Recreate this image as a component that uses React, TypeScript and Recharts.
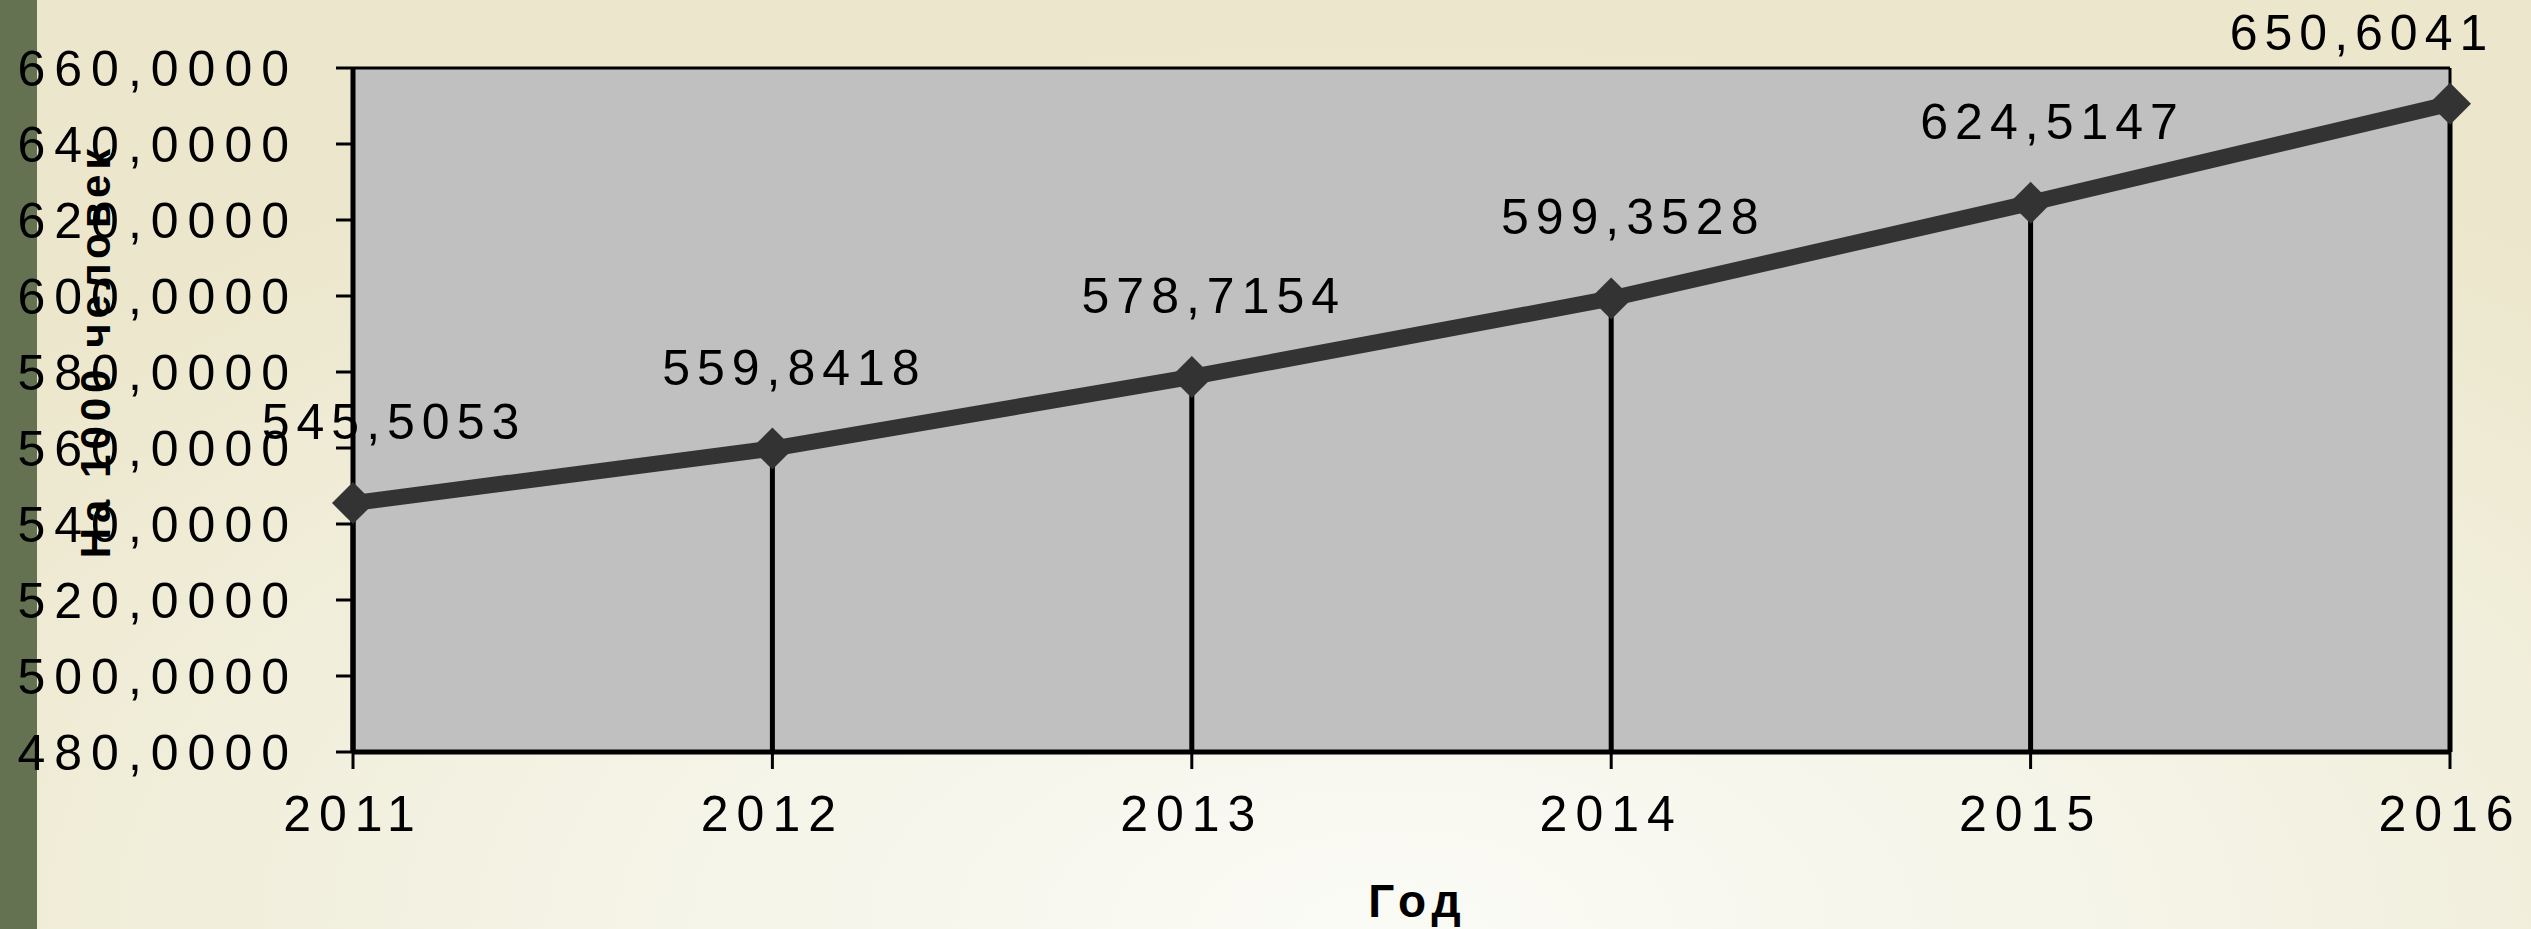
import React from 'react';
import { ComposedChart, Line, XAxis, YAxis, CartesianGrid, ReferenceLine, LabelList } from 'recharts';

const years = [2011, 2012, 2013, 2014, 2015, 2016];
const values = [545.5053, 559.8418, 578.7154, 599.3528, 624.5147, 650.6041];
const yTicks = [480, 500, 520, 540, 560, 580, 600, 620, 640, 660];

const data = years.map((year, i) => ({ year, value: values[i] }));

const W = 2531;
const H = 929;
const FONT = '"Liberation Sans", Arial, sans-serif';

const fmt = (v: number) => v.toFixed(4).replace('.', ',');

const Diamond = (props: any) => {
  const { cx, cy, index } = props;
  const r = 21;
  return (
    <path
      key={`d-${index}`}
      d={`M${cx},${cy - r} L${cx + r},${cy} L${cx},${cy + r} L${cx - r},${cy} Z`}
      fill="#333333"
    />
  );
};

const ValueLabel = (props: any) => {
  const { x, y, value, index } = props;
  // placed a bit right of and above the point, kept inside the picture
  const cx = Math.min(x + (index === 0 ? 41 : 22), 2362);
  const by = Math.max(y - 64, 50);
  return (
    <text
      x={cx}
      y={by}
      textAnchor="middle"
      fontFamily={FONT}
      fontSize={50}
      letterSpacing={7}
      fill="#000"
    >
      {fmt(value)}
    </text>
  );
};

const YTitle = (props: any) => {
  const { viewBox } = props;
  const x = viewBox.x + 110;
  const y = viewBox.y + viewBox.height / 2 - 59;
  return (
    <text
      x={x}
      y={y}
      transform={`rotate(-90, ${x}, ${y})`}
      textAnchor="middle"
      fontFamily={FONT}
      fontWeight="bold"
      fontSize={42}
      letterSpacing={5}
      fill="#000"
    >
      На 1000 человек
    </text>
  );
};

const XTitle = (props: any) => {
  const { viewBox } = props;
  const x = viewBox.x + viewBox.width / 2 + 16;
  const y = viewBox.y + viewBox.height - 12;
  return (
    <text
      x={x}
      y={y}
      textAnchor="middle"
      fontFamily={FONT}
      fontWeight="bold"
      fontSize={46}
      letterSpacing={6}
      fill="#000"
    >
      Год
    </text>
  );
};

export default function App() {
  return (
    <div
      style={{
        width: W,
        height: H,
        position: 'relative',
        overflow: 'hidden',
        background: 'radial-gradient(ellipse 70% 95% at 55% 100%, #fbfbf6 0%, #f5f4e8 40%, #ece7cc 100%)',
      }}
    >
      <style>{'body{margin:0}'}</style>
      <div style={{ position: 'absolute', left: 0, top: 0, width: 37, height: H, background: '#647252' }} />
      <ComposedChart
        width={W}
        height={H}
        data={data}
        margin={{ top: 68, right: 81, left: 0, bottom: 0 }}
        style={{ position: 'absolute', left: 0, top: 0 }}
      >
        <CartesianGrid horizontal={false} vertical={false} fill="#c0c0c0" />
        <XAxis
          dataKey="year"
          type="number"
          domain={[2011, 2016]}
          ticks={years}
          height={177}
          tickSize={17}
          tickMargin={26}
          axisLine={{ stroke: '#000', strokeWidth: 5 }}
          tickLine={{ stroke: '#000', strokeWidth: 3 }}
          tick={{ fill: '#000', fontSize: 50, fontFamily: FONT, letterSpacing: 8 }}
          label={{ content: XTitle }}
        />
        <YAxis
          type="number"
          domain={[480, 660]}
          ticks={yTicks}
          width={353}
          tickSize={17}
          tickMargin={38}
          tickFormatter={fmt}
          axisLine={{ stroke: '#000', strokeWidth: 5 }}
          tickLine={{ stroke: '#000', strokeWidth: 3 }}
          tick={{ fill: '#000', fontSize: 50, fontFamily: FONT, letterSpacing: 9 }}
          label={{ content: YTitle }}
        />
        <ReferenceLine y={660} stroke="#000" strokeWidth={3} />
        <ReferenceLine x={2016} stroke="#000" strokeWidth={3} />
        {data.map((d) => (
          <ReferenceLine
            key={d.year}
            segment={[
              { x: d.year, y: 480 },
              { x: d.year, y: d.value },
            ]}
            stroke="#000"
            strokeWidth={5}
          />
        ))}
        <Line
          dataKey="value"
          type="linear"
          stroke="#333333"
          strokeWidth={16}
          dot={Diamond}
          activeDot={false}
          isAnimationActive={false}
        >
          <LabelList dataKey="value" content={ValueLabel} />
        </Line>
      </ComposedChart>
    </div>
  );
}
